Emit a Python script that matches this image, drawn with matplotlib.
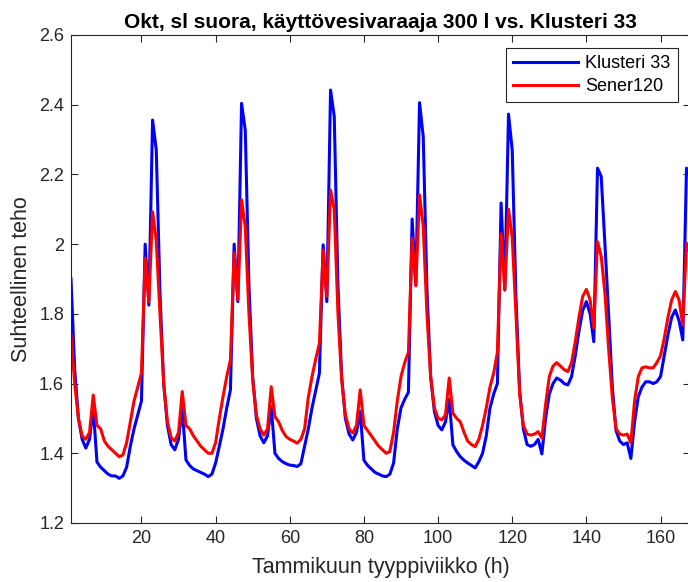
import numpy as np
import matplotlib
matplotlib.use("Agg")
import matplotlib.pyplot as plt
from matplotlib.ticker import FuncFormatter

plt.rcParams["font.family"] = ["Liberation Sans", "DejaVu Sans"]

# hourly values over the typical January week (h = 1..168)
hours = np.arange(1, 169)

klusteri = [
    # day 1
    1.90, 1.64, 1.50, 1.44, 1.415, 1.44, 1.53, 1.375, 1.36, 1.35, 1.34, 1.335,
    1.335, 1.328, 1.335, 1.36, 1.42, 1.47, 1.51, 1.55, 2.00, 1.825, 2.356, 2.27,
    # day 2
    1.86, 1.60, 1.48, 1.425, 1.41, 1.44, 1.53, 1.381, 1.365, 1.355, 1.35, 1.345,
    1.34, 1.333, 1.34, 1.372, 1.42, 1.47, 1.53, 1.582, 2.00, 1.835, 2.404, 2.327,
    # day 3
    1.88, 1.62, 1.50, 1.45, 1.43, 1.45, 1.534, 1.40, 1.385, 1.376, 1.37, 1.366,
    1.365, 1.362, 1.37, 1.42, 1.47, 1.53, 1.58, 1.63, 1.998, 1.835, 2.442, 2.366,
    # day 4
    1.88, 1.62, 1.50, 1.455, 1.438, 1.46, 1.52, 1.38, 1.365, 1.355, 1.345, 1.34,
    1.335, 1.333, 1.34, 1.372, 1.47, 1.53, 1.555, 1.575, 2.072, 1.883, 2.406, 2.308,
    # day 5
    1.87, 1.62, 1.52, 1.48, 1.467, 1.49, 1.555, 1.424, 1.405, 1.39, 1.38, 1.372,
    1.365, 1.358, 1.376, 1.40, 1.45, 1.53, 1.57, 1.60, 2.118, 1.868, 2.373, 2.27,
    # day 6
    1.85, 1.58, 1.47, 1.425, 1.42, 1.425, 1.44, 1.398, 1.50, 1.57, 1.60, 1.616,
    1.61, 1.60, 1.596, 1.62, 1.68, 1.75, 1.81, 1.835, 1.80, 1.72, 2.218, 2.194,
    # day 7
    2.00, 1.80, 1.59, 1.465, 1.435, 1.425, 1.43, 1.385, 1.49, 1.562, 1.59, 1.605,
    1.605, 1.60, 1.605, 1.62, 1.68, 1.74, 1.79, 1.811, 1.78, 1.725, 2.218, 2.19,
]

sener = [
    # day 1
    1.74, 1.60, 1.50, 1.45, 1.44, 1.46, 1.567, 1.48, 1.47, 1.435, 1.42, 1.41,
    1.40, 1.39, 1.395, 1.43, 1.49, 1.55, 1.59, 1.63, 1.96, 1.835, 2.093, 2.01,
    # day 2
    1.80, 1.60, 1.49, 1.445, 1.435, 1.46, 1.577, 1.48, 1.47, 1.45, 1.435, 1.42,
    1.41, 1.40, 1.40, 1.43, 1.50, 1.562, 1.62, 1.668, 1.975, 1.84, 2.127, 2.05,
    # day 3
    1.80, 1.61, 1.51, 1.47, 1.452, 1.47, 1.591, 1.505, 1.49, 1.465, 1.448, 1.44,
    1.435, 1.429, 1.44, 1.47, 1.56, 1.62, 1.67, 1.716, 1.983, 1.85, 2.155, 2.10,
    # day 4
    1.80, 1.61, 1.51, 1.47, 1.458, 1.48, 1.582, 1.48, 1.465, 1.45, 1.435, 1.42,
    1.41, 1.40, 1.405, 1.46, 1.55, 1.62, 1.66, 1.69, 2.017, 1.88, 2.141, 2.05,
    # day 5
    1.80, 1.62, 1.53, 1.50, 1.496, 1.51, 1.616, 1.515, 1.50, 1.49, 1.46, 1.435,
    1.425, 1.419, 1.44, 1.48, 1.53, 1.59, 1.63, 1.69, 2.03, 1.87, 2.10, 2.02,
    # day 6
    1.80, 1.57, 1.48, 1.455, 1.452, 1.455, 1.462, 1.444, 1.54, 1.62, 1.65, 1.66,
    1.65, 1.64, 1.634, 1.66, 1.72, 1.79, 1.85, 1.87, 1.84, 1.759, 2.007, 1.965,
    # day 7
    1.86, 1.70, 1.56, 1.47, 1.455, 1.452, 1.455, 1.43, 1.55, 1.62, 1.645, 1.648,
    1.645, 1.645, 1.66, 1.68, 1.73, 1.79, 1.84, 1.864, 1.84, 1.768, 2.003, 1.97,
]

x_ticks = [20, 40, 60, 80, 100, 120, 140, 160]
y_ticks = [1.2, 1.4, 1.6, 1.8, 2.0, 2.2, 2.4, 2.6]

fig = plt.figure(figsize=(6.88, 5.82), dpi=100)
ax = fig.add_axes([0.1032, 0.1014, 0.900, 0.8385])

ax.plot(hours, klusteri, color="#0000ff", linewidth=2.2, label="Klusteri 33")
ax.plot(hours, sener, color="#ff0000", linewidth=2.2, label="Sener120")

ax.set_xlim(1, 168)
ax.set_ylim(1.2, 2.6)
ax.set_xticks(x_ticks)
ax.set_yticks(y_ticks)
ax.yaxis.set_major_formatter(FuncFormatter(lambda v, p: "%g" % round(v, 2)))
ax.tick_params(direction="in", top=True, right=True, length=5, pad=5,
               labelsize=13, color="#262626", labelcolor="#262626")
for s in ax.spines.values():
    s.set_color("#262626")
    s.set_linewidth(0.8)

ax.set_title("Okt, sl suora, käyttövesivaraaja 300 l vs. Klusteri 33",
             fontsize=15, fontweight="bold", pad=5)
ax.set_xlabel("Tammikuun tyyppiviikko (h)", fontsize=15.5, color="#262626",
              labelpad=7)
ax.set_ylabel("Suhteellinen teho", fontsize=15.5, color="#262626", labelpad=5)

leg = ax.legend(loc="upper right", fontsize=13, fancybox=False,
                handlelength=3.6, borderaxespad=0.7, framealpha=1,
                borderpad=0.4, labelspacing=0.35, handletextpad=0.4)
leg.get_frame().set_edgecolor("#262626")
leg.get_frame().set_linewidth(0.8)

fig.savefig("out.png", dpi=100)
